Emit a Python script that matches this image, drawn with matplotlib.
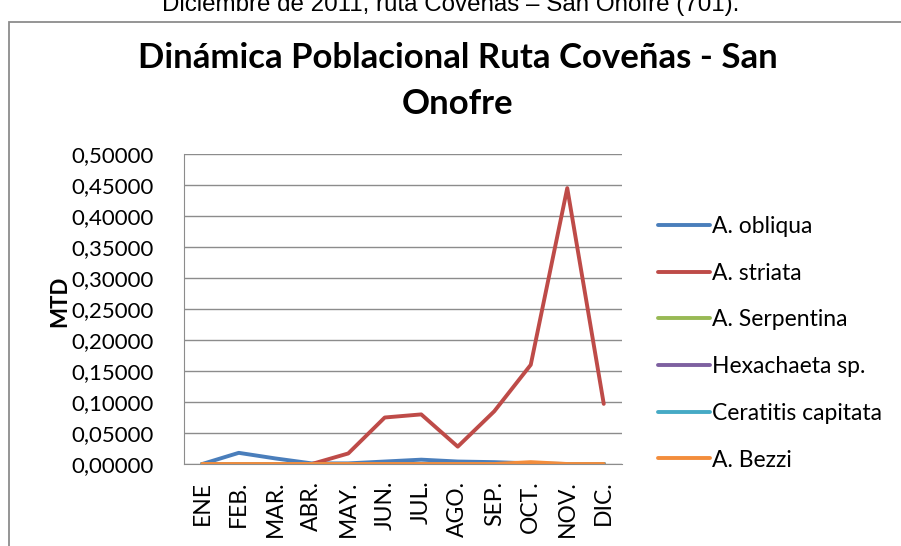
import matplotlib
matplotlib.use('Agg')
import matplotlib.pyplot as plt
from matplotlib.patches import Rectangle
from matplotlib.ticker import FuncFormatter
import numpy as np

plt.rcParams['font.family'] = ['Lato', 'DejaVu Sans']

meses = ['ENE', 'FEB.', 'MAR.', 'ABR.', 'MAY.', 'JUN.', 'JUL.', 'AGO.', 'SEP.', 'OCT.', 'NOV.', 'DIC.']

a_obliqua = [0.0, 0.018, 0.009, 0.001, 0.001, 0.004, 0.007, 0.004, 0.003, 0.001, 0.0, 0.0]
a_striata = [0.0, 0.0, 0.0, 0.0, 0.017, 0.075, 0.080, 0.028, 0.085, 0.160, 0.445, 0.097]
a_serpentina = [0.0] * 12
hexachaeta = [0.0, 0.0, 0.0, 0.0, 0.0, 0.0, 0.0, 0.0, 0.0, 0.0, 0.0, 0.0]
ceratitis = [0.0] * 12
a_bezzi = [0.0, 0.0, 0.0, 0.0, 0.0, 0.0, 0.0, 0.0, 0.0, 0.003, 0.0, 0.0]

series = [
    ('A. obliqua', a_obliqua, '#4A7EBB'),
    ('A. striata', a_striata, '#BE4B48'),
    ('A. Serpentina', a_serpentina, '#98B954'),
    ('Hexachaeta sp.', hexachaeta, '#7D60A0'),
    ('Ceratitis capitata', ceratitis, '#46AAC5'),
    ('A. Bezzi', a_bezzi, '#F38D3C'),
]

W, H = 901, 546
fig = plt.figure(figsize=(W / 100, H / 100), dpi=100)

# chart frame (cut off at right/bottom like the screenshot)
fig.patches.append(Rectangle((9 / W, -0.1), 1.2, 1 - 22 / H + 0.1, transform=fig.transFigure,
                             fill=False, edgecolor='#8c8c8c', linewidth=1.3))

# caption cut at the top edge
fig.text(0.5, 1 - 11 / H, 'Diciembre de 2011, ruta Coveñas – San Onofre (701).',
         ha='center', va='baseline', fontsize=17.4, family=['Liberation Sans', 'DejaVu Sans'])

ax = fig.add_axes([184 / W, 1 - 464 / H, 438 / W, 310 / H])
x = np.arange(len(meses))
for nombre, vals, col in series:
    ax.plot(x, vals, color=col, lw=2.8, label=nombre, solid_capstyle='round')

ax.set_xlim(-0.5, len(meses) - 0.5)
ax.set_ylim(0, 0.5)
ax.set_yticks(np.arange(0, 0.5001, 0.05))
ax.yaxis.set_major_formatter(FuncFormatter(lambda v, p: ('%.5f' % v).replace('.', ',')))
ax.grid(axis='y', color='#8c8c8c', lw=1)
ax.set_axisbelow(True)
for s in ['top', 'right']:
    ax.spines[s].set_visible(False)
for s in ['left', 'bottom']:
    ax.spines[s].set_color('#8c8c8c')
ax.set_xticks(x)
ax.set_xticklabels(meses, rotation=90, fontsize=16.5)
ax.tick_params(axis='x', length=0, pad=12)
ax.tick_params(axis='y', length=0, labelsize=16, pad=22)

fig.text(60 / W, 1 - 301 / H, 'MTD', rotation=90, ha='center', va='center',
         fontsize=16, fontweight='bold')

fig.text(458 / W, 1 - 58 / H, 'Dinámica Poblacional Ruta Coveñas - San', ha='center', va='center',
         fontsize=25, fontweight='bold')
fig.text(458 / W, 1 - 104 / H, 'Onofre', ha='center', va='center', fontsize=25, fontweight='bold')

ax.legend(loc='upper left', bbox_to_anchor=(649 / W, 1 - 207 / H), bbox_transform=fig.transFigure,
          frameon=False, fontsize=16.5, handlelength=2.27, handletextpad=0.1, labelspacing=1.12,
          borderaxespad=0)

fig.savefig('out.png', dpi=100)
